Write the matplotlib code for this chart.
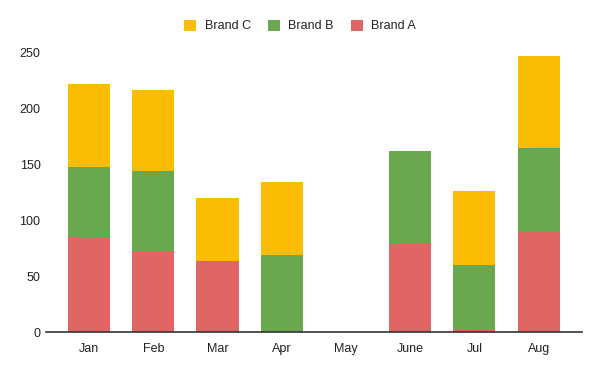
import matplotlib.pyplot as plt
import numpy as np

plt.rcParams['font.family'] = ['Liberation Sans', 'DejaVu Sans']

months = ["Jan", "Feb", "Mar", "Apr", "May", "June", "Jul", "Aug"]
brand_a = [85, 72, 64, 0, 0, 79, 2, 90]
brand_b = [63, 72, 0, 69, 0, 83, 58, 75]
brand_c = [74, 72, 56, 65, 0, 0, 66, 82]

col_a = "#e06666"
col_b = "#6aa84f"
col_c = "#fbbc04"

fig = plt.figure(figsize=(6, 3.71), dpi=100)
ax = fig.add_axes([0.0767, 0.1043, 0.8928, 0.7547])

x = np.arange(len(months))
a = np.array(brand_a)
b = np.array(brand_b)
c = np.array(brand_c)
w = 0.655

ax.bar(x, a, w, color=col_a, label="Brand A")
ax.bar(x, b, w, bottom=a, color=col_b, label="Brand B")
ax.bar(x, c, w, bottom=a + b, color=col_c, label="Brand C")

ax.set_xlim(-0.67, len(months) - 0.33)
ax.set_ylim(0, 250)
ax.set_yticks([0, 50, 100, 150, 200, 250])
ax.set_xticks(x)
ax.set_xticklabels(months)
ax.tick_params(length=0, labelsize=9, colors="#222222")
ax.tick_params(axis="x", pad=8)
ax.tick_params(axis="y", pad=4)

for s in ["top", "right", "left"]:
    ax.spines[s].set_visible(False)
ax.spines["bottom"].set_color("#333333")
ax.spines["bottom"].set_linewidth(1.2)

handles, labels = ax.get_legend_handles_labels()
fig.legend(handles[::-1], labels[::-1], loc="center", bbox_to_anchor=(0.5, 0.93),
           ncol=3, frameon=False, fontsize=9, handlelength=0.95, handleheight=1.0,
           handletextpad=0.7, columnspacing=1.35, labelcolor="#222222")

fig.savefig("out.png", dpi=100)
